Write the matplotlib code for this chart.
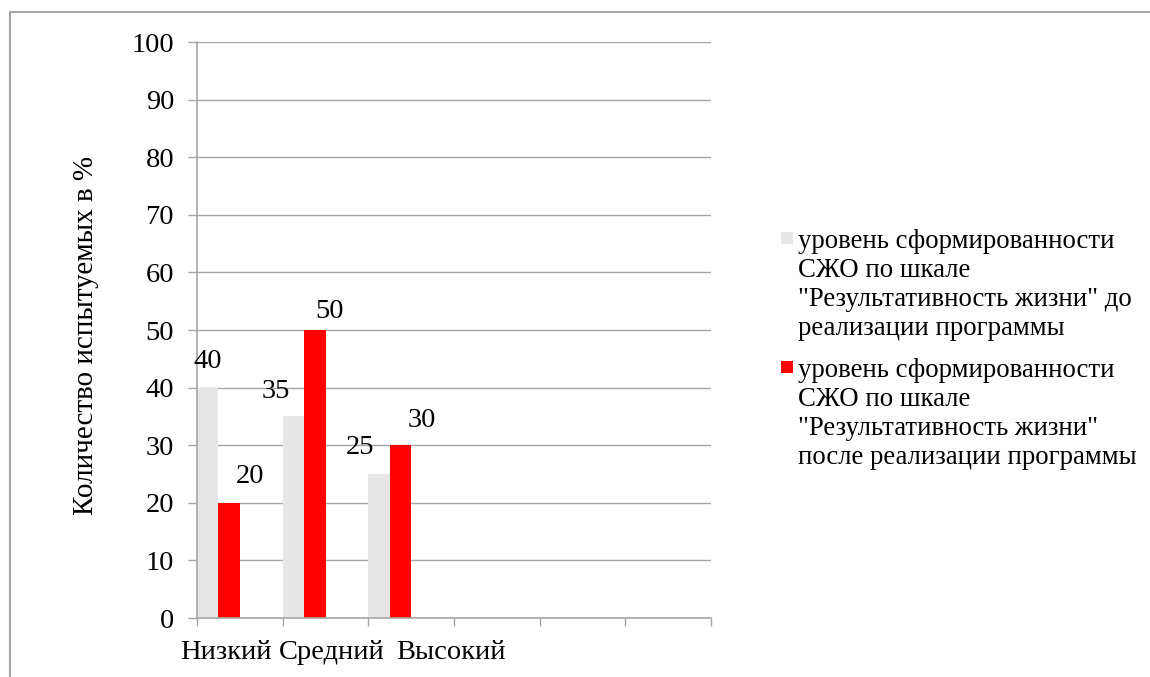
import matplotlib
matplotlib.use("Agg")
import matplotlib.pyplot as plt
from matplotlib.patches import Rectangle

plt.rcParams['font.family'] = ['Liberation Serif', 'DejaVu Serif']

# ---- data ----
categories = ["Низкий", "Средний", "Высокий"]
n_slots = 6
before = [40, 35, 25]
after = [20, 50, 30]
series_names = [
    "уровень сформированности\nСЖО по шкале\n\"Результативность жизни\" до\nреализации программы",
    "уровень сформированности\nСЖО по шкале\n\"Результативность жизни\"\nпосле реализации программы",
]
y_ticks = list(range(0, 101, 10))
y_label = "Количество испытуемых в %"

# ---- style/layout ----
colors = ["#E6E6E6", "#FF0000"]
grid_color = "#A6A6A6"
fs = 20.5
fs_leg = 19.3
fs_ylab = 21
W, H, DPI = 1150, 677, 100
ax_left, ax_right, ax_top, ax_bottom = 197, 711, 42, 618
# label offsets in pixels (dx, dy) relative to bar top-centre
before_lbl_off = [(0, 26), (-18, 25), (-19, 26)]
after_lbl_off = [(21, 26), (15, 18), (21, 25)]
cat_label_pos = [0.338, 1.569, 2.958]
# legend layout (pixels from top-left)
leg_sq_x, leg_sq_size, leg_text_x = 781, 12, 798
leg_first_baseline = [248, 377]
leg_line_step = 29

fig = plt.figure(figsize=(W / DPI, H / DPI), dpi=DPI)
ax = fig.add_axes([ax_left / W, 1 - ax_bottom / H,
                   (ax_right - ax_left) / W, (ax_bottom - ax_top) / H])

bw = 0.25
idx = range(len(categories))
b1 = ax.bar([i + bw / 2 for i in idx], before, width=bw, color=colors[0],
            label=series_names[0], zorder=3)
b2 = ax.bar([i + 1.5 * bw for i in idx], after, width=bw, color=colors[1],
            label=series_names[1], zorder=3)

px2pt = 72 / DPI
for rect, v, (dx, dy) in zip(b1, before, before_lbl_off):
    ax.annotate(str(v), (rect.get_x() + rect.get_width() / 2, v),
                xytext=(dx * px2pt, dy * px2pt), textcoords="offset points",
                ha="center", va="center", fontsize=fs, zorder=5)
for rect, v, (dx, dy) in zip(b2, after, after_lbl_off):
    ax.annotate(str(v), (rect.get_x() + rect.get_width() / 2, v),
                xytext=(dx * px2pt, dy * px2pt), textcoords="offset points",
                ha="center", va="center", fontsize=fs, zorder=5)

ax.set_xlim(0, n_slots)
ax.set_ylim(0, 100)
ax.set_yticks(y_ticks)
ax.tick_params(axis="y", labelsize=fs, length=6.5, width=1, color=grid_color,
               pad=10)
ax.set_xticks(cat_label_pos)
ax.set_xticklabels(categories)
ax.set_xticks(range(n_slots + 1), minor=True)
ax.tick_params(axis="x", which="major", length=0, labelsize=fs, pad=16)
ax.tick_params(axis="x", which="minor", length=6, width=1, color=grid_color)

ax.grid(axis="y", color=grid_color, lw=1, zorder=0)
ax.set_axisbelow(True)
for s in ["top", "right"]:
    ax.spines[s].set_visible(False)
for s in ["left", "bottom"]:
    ax.spines[s].set_color(grid_color)
    ax.spines[s].set_linewidth(1.2)
    ax.spines[s].set_zorder(4)

ax.set_ylabel(y_label, fontsize=fs_ylab)
ax.yaxis.set_label_coords((99 - ax_left) / (ax_right - ax_left),
                          (ax_bottom - 335) / (ax_bottom - ax_top))

# legend: square aligned with the first line of each wrapped label
for bars, name, base in zip([b1, b2], series_names, leg_first_baseline):
    fc = bars.patches[0].get_facecolor()
    sq_top = base - 16
    fig.patches.append(Rectangle((leg_sq_x / W, 1 - (sq_top + leg_sq_size) / H),
                                 leg_sq_size / W, leg_sq_size / H,
                                 transform=fig.transFigure, facecolor=fc,
                                 edgecolor="none"))
    for k, line in enumerate(name.split("\n")):
        fig.text(leg_text_x / W, 1 - (base + k * leg_line_step) / H, line,
                 fontsize=fs_leg, ha="left", va="baseline")

fig.patches.append(Rectangle((10 / W, -0.1), 1.2, 1.1 - 12 / H,
                             transform=fig.transFigure, fill=False,
                             edgecolor=grid_color, lw=1.5))

fig.savefig("out.png", dpi=DPI)
